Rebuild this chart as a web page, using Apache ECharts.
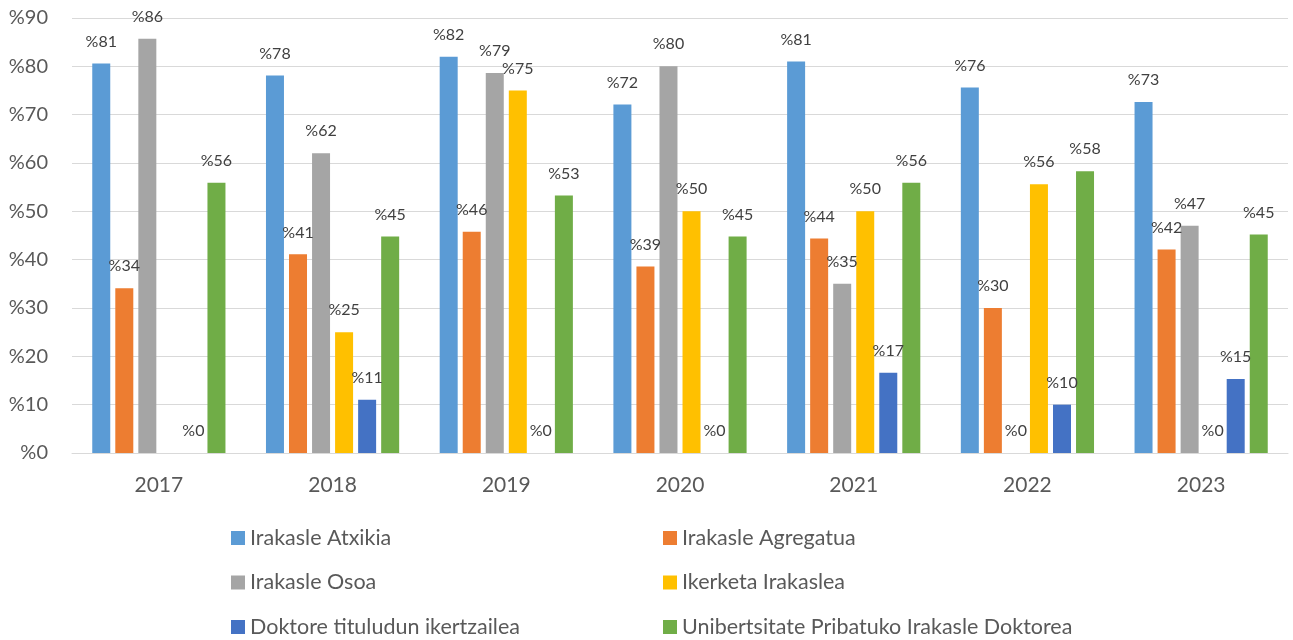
<!DOCTYPE html>
<html>
<head>
<meta charset="utf-8">
<script src="https://cdn.jsdelivr.net/npm/echarts@6/dist/echarts.min.js"></script>
<style>
  html, body { margin: 0; padding: 0; background: #fff; }
  #chart { width: 1293px; height: 640px; }
</style>
</head>
<body>
<div id="chart"></div>
<script>
const years = ["2017", "2018", "2019", "2020", "2021", "2022", "2023"];

const atxikia = [80.6, 78.1, 82.0, 72.1, 81.0, 75.6, 72.6];
const agregatua = [34.1, 41.1, 45.8, 38.6, 44.4, 30.0, 42.1];
const osoa = [85.7, 62.0, 78.6, 80.0, 35.0, 0, 47.0];
const ikerketa = [null, 25.0, 75.0, 50.0, 50.0, 55.6, 0];
const doktore = [0, 11.0, 0, 0, 16.6, 10.0, 15.3];
const pribatua = [55.9, 44.8, 53.3, 44.8, 55.9, 58.3, 45.2];

const yTicks = [0, 10, 20, 30, 40, 50, 60, 70, 80, 90];

const FONT = "Lato, 'Liberation Sans', sans-serif";
const TEXT = "#595959";
const GRID = "#d9d9d9";

const seriesDefs = [
  { name: "Irakasle Atxikia", data: atxikia, color: "#5b9bd5" },
  { name: "Irakasle Agregatua", data: agregatua, color: "#ed7d31" },
  { name: "Irakasle Osoa", data: osoa, color: "#a5a5a5" },
  { name: "Ikerketa Irakaslea", data: ikerketa, color: "#ffc000" },
  { name: "Doktore tituludun ikertzailea", data: doktore, color: "#4472c4" },
  { name: "Unibertsitate Pribatuko Irakasle Doktorea", data: pribatua, color: "#70ad47" },
];

const legendText = { color: TEXT, fontSize: 21.5, fontFamily: FONT, lineHeight: 22 };

function legendColumn(left, names) {
  return {
    orient: "vertical",
    left: left,
    top: 527,
    height: 112,
    padding: 0,
    itemWidth: 14,
    itemHeight: 14,
    itemGap: 22.5,
    icon: "rect",
    textStyle: legendText,
    data: names,
  };
}

const chart = echarts.init(document.getElementById("chart"));
chart.setOption({
  animation: false,
  textStyle: { fontFamily: FONT },
  grid: { left: 72, right: 5, top: 18, bottom: 187 },
  legend: [
    legendColumn(231, [seriesDefs[0].name, seriesDefs[2].name, seriesDefs[4].name]),
    legendColumn(663, [seriesDefs[1].name, seriesDefs[3].name, seriesDefs[5].name]),
  ],
  xAxis: {
    type: "category",
    data: years,
    axisTick: { show: false },
    axisLine: { lineStyle: { color: GRID, width: 1 } },
    axisLabel: { color: TEXT, fontSize: 21, margin: 22 },
  },
  yAxis: {
    type: "value",
    min: yTicks[0],
    max: yTicks[yTicks.length - 1],
    interval: 10,
    axisLine: { show: false },
    axisTick: { show: false },
    axisLabel: {
      color: TEXT,
      fontSize: 20,
      margin: 24,
      formatter: (v) => "%" + v,
    },
    splitLine: { lineStyle: { color: GRID, width: 1 } },
  },
  series: seriesDefs.map((s) => ({
    type: "bar",
    name: s.name,
    data: s.data,
    barWidth: 18,
    barGap: "28%",
    itemStyle: { color: s.color },
    label: {
      show: true,
      position: "top",
      distance: 14,
      color: "#404040",
      fontSize: 16,
      formatter: (p) => (p.value == null ? "" : "%" + Math.round(p.value)),
    },
  })),
});
</script>
</body>
</html>
